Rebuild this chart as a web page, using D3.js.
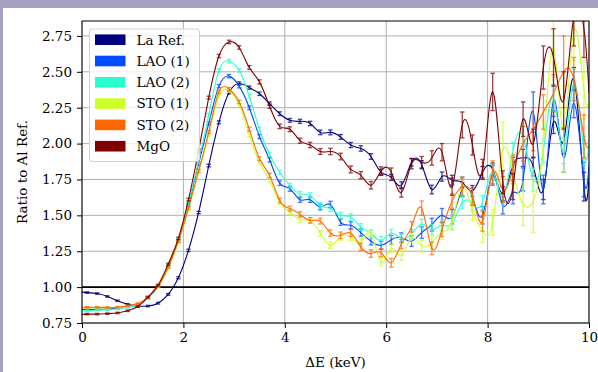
<!DOCTYPE html>
<html><head><meta charset="utf-8">
<script src="https://cdn.jsdelivr.net/npm/d3@7"></script>
<style>body{margin:0;padding:0;overflow:hidden;background:#a7a0c0}svg{display:block}</style>
</head><body>
<script>
const energy = [0.1,0.3,0.5,0.7,0.9,1.1,1.3,1.5,1.7,1.9,2.1,2.3,2.5,2.7,2.9,3.1,3.3,3.5,3.7,3.9,4.1,4.3,4.5,4.7,4.9,5.1,5.3,5.5,5.7,5.9,6.1,6.3,6.5,6.7,6.9,7.1,7.3,7.5,7.7,7.9,8.1,8.3,8.5,8.7,8.9,9.1,9.3,9.5,9.7,9.9];
const seriesNames = ["La Ref.","LAO (1)","LAO (2)","STO (1)","STO (2)","MgO"];
const seriesColors = ["#00007f","#004cff","#29ffce","#ceff29","#ff6800","#7f0000"];
const laRef = [0.962,0.955,0.935,0.905,0.880,0.868,0.868,0.888,0.949,1.065, 1.256,1.520,1.847,2.148,2.356,2.419,2.390,2.347,2.278,2.208, 2.162,2.155,2.140,2.078,2.078,2.046,1.990,1.966,1.910,1.800, 1.765,1.710,1.870,1.853,1.680,1.770,1.745,1.730,1.670,1.800, 1.820,1.650,1.850,1.900,1.840,1.680,2.150,2.020,2.450,1.700];
const lao1 = [0.845,0.845,0.848,0.852,0.862,0.875,0.925,1.005,1.140,1.320, 1.570,1.860,2.140,2.400,2.470,2.400,2.250,2.049,1.887,1.724, 1.685,1.609,1.609,1.558,1.576,1.453,1.431,1.380,1.320,1.292, 1.330,1.345,1.320,1.380,1.435,1.500,1.490,1.680,1.630,1.500, 1.780,1.570,1.660,1.750,2.220,1.680,2.300,1.900,2.280,1.750];
const lao2 = [0.835,0.840,0.842,0.848,0.860,0.875,0.925,1.005,1.150,1.330, 1.580,1.880,2.200,2.510,2.575,2.510,2.330,2.100,1.924,1.800, 1.708,1.650,1.639,1.569,1.547,1.500,1.488,1.419,1.373,1.326, 1.375,1.340,1.370,1.440,1.400,1.430,1.440,1.590,1.580,1.590, 1.800,1.630,1.950,2.050,1.750,1.950,2.320,1.950,2.420,1.950];
const sto1 = [0.855,0.855,0.855,0.858,0.866,0.880,0.925,1.000,1.130,1.310, 1.540,1.800,2.060,2.330,2.370,2.270,2.060,1.870,1.743,1.592, 1.523,1.470,1.465,1.373,1.292,1.349,1.349,1.315,1.373,1.175, 1.269,1.220,1.349,1.285,1.310,1.380,1.460,1.700,1.535,1.390, 1.450,1.950,1.800,1.580,1.600,2.000,2.660,2.100,2.780,2.370];
const sto2 = [0.860,0.860,0.858,0.860,0.870,0.885,0.930,1.005,1.140,1.320, 1.550,1.810,2.080,2.360,2.380,2.290,2.100,1.894,1.778,1.604, 1.547,1.507,1.465,1.460,1.377,1.361,1.377,1.280,1.234,1.240, 1.170,1.300,1.420,1.550,1.270,1.400,1.600,1.700,1.630,1.460, 1.800,1.680,1.820,2.000,2.100,2.220,2.350,2.500,2.450,2.050];
const mgo = [0.812,0.812,0.815,0.820,0.835,0.865,0.930,1.014,1.160,1.340, 1.610,1.950,2.320,2.610,2.708,2.669,2.530,2.430,2.260,2.120, 2.100,2.020,1.990,1.945,1.945,1.910,1.820,1.780,1.710,1.810, 1.800,1.660,1.860,1.870,1.900,1.940,1.700,2.130,1.990,1.820, 2.360,1.730,1.700,2.170,2.000,2.530,2.600,2.300,2.880,2.800];
const errLa = [0.005,0.005,0.005,0.005,0.005,0.005,0.005,0.006,0.006,0.007, 0.008,0.008,0.009,0.010,0.010,0.011,0.011,0.012,0.012,0.013, 0.013,0.014,0.015,0.016,0.017,0.017,0.018,0.019,0.020,0.021, 0.022,0.024,0.026,0.028,0.030,0.032,0.034,0.036,0.038,0.040, 0.045,0.050,0.055,0.060,0.065,0.070,0.080,0.090,0.080,0.100];
const errLao1 = [0.005,0.005,0.005,0.005,0.005,0.005,0.006,0.006,0.007,0.008, 0.009,0.010,0.010,0.011,0.012,0.012,0.013,0.014,0.015,0.016, 0.017,0.018,0.019,0.020,0.022,0.023,0.024,0.025,0.026,0.028, 0.030,0.033,0.036,0.040,0.044,0.048,0.050,0.050,0.060,0.060, 0.070,0.060,0.080,0.080,0.140,0.100,0.110,0.100,0.100,0.120];
const errLao2 = [0.005,0.005,0.005,0.005,0.005,0.005,0.006,0.006,0.007,0.008, 0.009,0.010,0.010,0.011,0.012,0.012,0.013,0.014,0.014,0.015, 0.016,0.017,0.018,0.019,0.020,0.021,0.022,0.023,0.024,0.026, 0.028,0.030,0.032,0.034,0.036,0.038,0.040,0.045,0.050,0.050, 0.055,0.060,0.060,0.070,0.080,0.080,0.090,0.090,0.100,0.100];
const errSto1 = [0.005,0.005,0.005,0.005,0.005,0.005,0.006,0.006,0.007,0.008, 0.009,0.010,0.010,0.011,0.012,0.012,0.013,0.014,0.015,0.016, 0.017,0.018,0.019,0.020,0.022,0.023,0.024,0.025,0.026,0.028, 0.030,0.033,0.036,0.040,0.044,0.048,0.055,0.060,0.070,0.080, 0.090,0.200,0.120,0.150,0.220,0.150,0.200,0.300,0.200,0.200];
const errSto2 = [0.005,0.005,0.005,0.005,0.005,0.005,0.006,0.006,0.007,0.008, 0.009,0.010,0.010,0.011,0.012,0.012,0.013,0.014,0.015,0.016, 0.017,0.018,0.019,0.020,0.022,0.023,0.024,0.025,0.026,0.028, 0.030,0.033,0.036,0.050,0.044,0.048,0.050,0.060,0.060,0.070, 0.080,0.090,0.100,0.120,0.150,0.120,0.130,0.250,0.150,0.150];
const errMgo = [0.005,0.005,0.005,0.005,0.005,0.005,0.006,0.006,0.007,0.008, 0.009,0.010,0.010,0.011,0.012,0.012,0.013,0.014,0.015,0.016, 0.017,0.018,0.019,0.020,0.022,0.023,0.024,0.025,0.026,0.028, 0.030,0.033,0.036,0.040,0.050,0.060,0.060,0.090,0.070,0.070, 0.130,0.080,0.090,0.120,0.100,0.150,0.200,0.200,0.200,0.200];
// curve values read at the plot edges (x = 0 and x = 10)
const curveStart = [0.965,0.845,0.835,0.855,0.860,0.810];
const curveEnd = [1.76,1.85,2.00,2.30,1.98,2.35];
const xTicks = [0,2,4,6,8,10];
const yTicks = [0.75,1.00,1.25,1.50,1.75,2.00,2.25,2.50,2.75];

const values = [laRef,lao1,lao2,sto1,sto2,mgo];
const errors = [errLa,errLao1,errLao2,errSto1,errSto2,errMgo];

const W = 598, H = 372;
const m = {l:82, r:589, t:21, b:323};
const FONT = "'DejaVu Serif', serif";

const svg = d3.select("body").append("svg").attr("width",W).attr("height",H);
svg.append("rect").attr("x",3).attr("y",8).attr("width",W-3).attr("height",H-8).attr("fill","#fff");

const x = d3.scaleLinear().domain([0,10]).range([m.l,m.r]);
const y = d3.scaleLinear().domain([0.75,2.854]).range([m.b,m.t]);

// grid
const grid = svg.append("g");
grid.selectAll("line.gx").data(xTicks).join("line")
  .attr("x1",d=>x(d)).attr("x2",d=>x(d)).attr("y1",m.t).attr("y2",m.b)
  .attr("stroke","#b0b0b0").attr("stroke-width",1);
grid.selectAll("line.gy").data(yTicks).join("line")
  .attr("x1",m.l).attr("x2",m.r).attr("y1",d=>y(d)).attr("y2",d=>y(d))
  .attr("stroke","#b0b0b0").attr("stroke-width",1);

svg.append("clipPath").attr("id","clip").append("rect")
  .attr("x",m.l).attr("y",m.t).attr("width",m.r-m.l).attr("height",m.b-m.t);

// reference line at 1
svg.append("line").attr("x1",m.l).attr("x2",m.r).attr("y1",y(1)).attr("y2",y(1))
  .attr("stroke","#000").attr("stroke-width",1.6);

const plot = svg.append("g").attr("clip-path","url(#clip)");
const line = d3.line().x(d=>x(d[0])).y(d=>y(d[1])).curve(d3.curveNatural);

values.forEach((vals,si)=>{
  const col = seriesColors[si];
  const g = plot.append("g");
  const pts = [[0,curveStart[si]]].concat(energy.map((e,i)=>[e,vals[i]])).concat([[10,curveEnd[si]]]);
  g.append("path").attr("d",line(pts)).attr("fill","none").attr("stroke",col).attr("stroke-width",1.1);
  const eb = g.append("g").attr("stroke",col).attr("stroke-width",1.3).attr("opacity",0.75);
  energy.forEach((e,i)=>{
    const xx = x(e), y0 = y(vals[i]-errors[si][i]), y1 = y(vals[i]+errors[si][i]);
    eb.append("line").attr("x1",xx).attr("x2",xx).attr("y1",y0).attr("y2",y1);
    eb.append("line").attr("x1",xx-2.2).attr("x2",xx+2.2).attr("y1",y0).attr("y2",y0);
    eb.append("line").attr("x1",xx-2.2).attr("x2",xx+2.2).attr("y1",y1).attr("y2",y1);
  });
});

// frame
svg.append("rect").attr("x",m.l).attr("y",m.t).attr("width",m.r-m.l).attr("height",m.b-m.t)
  .attr("fill","none").attr("stroke","#000").attr("stroke-width",1);

// axes
const xAxis = svg.append("g").attr("transform",`translate(0,${m.b})`)
  .call(d3.axisBottom(x).tickValues(xTicks).tickFormat(d3.format("d")).tickSize(5).tickPadding(4));
const yAxis = svg.append("g").attr("transform",`translate(${m.l},0)`)
  .call(d3.axisLeft(y).tickValues(yTicks).tickFormat(d3.format(".2f")).tickSize(5).tickPadding(5));
[xAxis,yAxis].forEach(a=>{
  a.select(".domain").remove();
  a.selectAll("text").attr("font-family",FONT).attr("font-size","13.5px").attr("fill","#000");
  a.selectAll("line").attr("stroke","#000");
});

svg.append("text").attr("x",(m.l+m.r)/2).attr("y",367).attr("text-anchor","middle")
  .attr("font-family",FONT).attr("font-size","13.5px").text("ΔE (keV)");
svg.append("text").attr("transform",`translate(27,${(m.t+m.b)/2}) rotate(-90)`).attr("text-anchor","middle")
  .attr("font-family",FONT).attr("font-size","13.5px").text("Ratio to Al Ref.");

// legend
const lg = svg.append("g");
lg.append("rect").attr("x",89.5).attr("y",29).attr("width",110).attr("height",132.5).attr("rx",3)
  .attr("fill","#fff").attr("fill-opacity",0.8).attr("stroke","#d0d0d0").attr("stroke-width",1);
seriesNames.forEach((n,i)=>{
  const cy = 39.7 + i*21.3;
  lg.append("rect").attr("x",95).attr("y",cy-5.3).attr("width",30.5).attr("height",10.6).attr("fill",seriesColors[i]);
  lg.append("text").attr("x",136.5).attr("y",cy+4.8).attr("font-family",FONT).attr("font-size","13.5px").text(n);
});
</script>
</body></html>
